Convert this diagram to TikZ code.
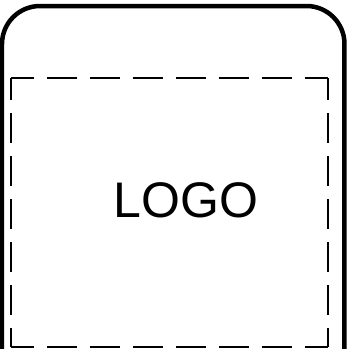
\documentclass[tikz,border=0pt]{standalone}
\usepackage{fontspec}
\setmainfont{Liberation Sans}
\begin{document}
\begin{tikzpicture}[x=1pt,y=-1pt,
  frame/.style={line width=4.5pt,line join=round,rounded corners=38pt},
  dashedge/.style={line width=2pt,dash pattern=on 30pt off 13pt},
  logotext/.style={font=\fontsize{50}{50}\selectfont,anchor=base,inner sep=0pt}]
\useasboundingbox (0,0) rectangle (360,349);
\fill[white] (0,0) rectangle (360,349);
% outer frame
\coordinate (fbl) at (2,356);
\coordinate (ftl) at (2,6);
\coordinate (ftr) at (344.5,6);
\coordinate (fbr) at (344.5,356);
\draw[frame] (fbl) -- (ftl) -- (ftr) -- (fbr);
% dashed rectangle
\coordinate (tl) at (11,78);
\coordinate (tr) at (328,78);
\coordinate (bl) at (11,347);
\coordinate (br) at (328,347);
\draw[dashedge,dash phase=7pt] (tl) -- (tr);
\draw[dashedge,dash phase=7pt] (bl) -- (br);
\draw[dashedge,dash phase=8pt] (tl) -- (bl);
\draw[dashedge,dash phase=8pt] (tr) -- (br);
\node[logotext] (logo) at (186,217) {LOGO};
\end{tikzpicture}
\end{document}
